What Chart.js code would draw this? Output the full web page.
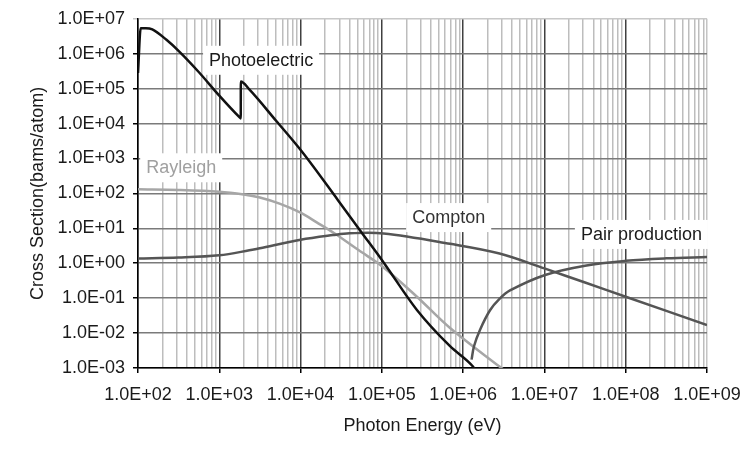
<!DOCTYPE html>
<html>
<head>
<meta charset="utf-8">
<script src="https://cdn.jsdelivr.net/npm/chart.js@4/dist/chart.umd.min.js"></script>
<style>
  html, body { margin: 0; background: #fff; }
</style>
</head>
<body>
<canvas id="chartCross" width="752" height="450"></canvas>
<script>
// Photon interaction cross sections (barns/atom) against photon energy (eV)
const photoEnergy = [100, 108, 125, 150, 224, 320, 562, 1000, 1780, 1838, 1840, 2340, 5000, 10200, 29000, 54000, 104000, 270000, 690000, 1320000, 1450000];
const photoSigma = [2.8e5, 5.4e6, 5.4e6, 5.0e6, 2.5e6, 1.17e6, 2.95e5, 6.3e4, 1.5e4, 1.4e4, 1.6e5, 9.5e4, 1.2e4, 1.66e3, 63, 8.7, 1.09, 0.046, 4.2e-3, 1.1e-3, 8e-4];

const rayleighEnergy = [100, 316, 1000, 2000, 3160, 5620, 10000, 15800, 26300, 50000, 105000, 270000, 690000, 2800000, 3200000];
const rayleighSigma = [132, 126, 112, 93, 76, 50, 28, 14.8, 7.1, 2.5, 0.76, 0.11, 0.014, 1.1e-3, 8.9e-4];

const comptonEnergy = [100, 316, 1000, 2340, 3160, 10000, 25000, 40000, 105000, 690000, 2800000, 10000000, 31600000, 100000000, 1000000000];
const comptonSigma = [1.36, 1.45, 1.69, 2.34, 2.7, 4.7, 6.4, 7.2, 7.1, 3.6, 1.9, 0.71, 0.28, 0.11, 0.017];

const pairEnergy = [1270000, 1360000, 1610000, 2140000, 2800000, 3770000, 10200000, 31600000, 100000000, 316000000, 1000000000];
const pairSigma = [1.74e-3, 4.2e-3, 0.0123, 0.045, 0.095, 0.166, 0.46, 0.85, 1.17, 1.38, 1.51];

const xTickValues = [1e2, 1e3, 1e4, 1e5, 1e6, 1e7, 1e8, 1e9];
const xTickLabels = ["1.0E+02", "1.0E+03", "1.0E+04", "1.0E+05", "1.0E+06", "1.0E+07", "1.0E+08", "1.0E+09"];
const yTickValues = [1e-3, 1e-2, 1e-1, 1e0, 1e1, 1e2, 1e3, 1e4, 1e5, 1e6, 1e7];
const yTickLabels = ["1.0E-03", "1.0E-02", "1.0E-01", "1.0E+00", "1.0E+01", "1.0E+02", "1.0E+03", "1.0E+04", "1.0E+05", "1.0E+06", "1.0E+07"];

const FONT = '"Liberation Sans", Arial, sans-serif';
const toPoints = (xs, ys) => xs.map((x, i) => ({ x, y: ys[i] }));

// vertical grid: decades plus 2..9 inside every decade
const xGridValues = [];
xTickValues.forEach((d, i) => {
  xGridValues.push(d);
  if (i < xTickValues.length - 1) {
    for (let k = 2; k <= 9; k++) xGridValues.push(d * k);
  }
});

// curve names in white boxes, placed in data units
const curveLabels = [
  { text: "Photoelectric", x: 3270, y: 6.7e5, color: "#1a1a1a" },
  { text: "Rayleigh", x: 340, y: 560, color: "#a0a0a0" },
  { text: "Compton", x: 6.64e5, y: 21, color: "#333333" },
  { text: "Pair production", x: 1.56e8, y: 6.9, color: "#1a1a1a" },
];

const curveLabelPlugin = {
  id: "curveLabels",
  afterDatasetsDraw(chart) {
    const { ctx } = chart;
    const xs = chart.scales.x;
    const ys = chart.scales.y;
    ctx.save();
    ctx.font = "18px " + FONT;
    ctx.textAlign = "center";
    ctx.textBaseline = "middle";
    curveLabels.forEach((l) => {
      const px = xs.getPixelForValue(l.x);
      const py = ys.getPixelForValue(l.y);
      const w = ctx.measureText(l.text).width + 12;
      ctx.fillStyle = "#ffffff";
      ctx.fillRect(px - w / 2, py - 14, w, 29);
      ctx.fillStyle = l.color;
      ctx.fillText(l.text, px, py + 1);
    });
    ctx.restore();
  },
};

// smooth curves use bezier tension; the edge jumps need monotone so they don't overshoot
const lineStyle = (color, smooth) => ({
  borderColor: color,
  backgroundColor: color,
  borderWidth: 2.5,
  pointRadius: 0,
  fill: false,
  ...(smooth ? { tension: 0.35 } : { cubicInterpolationMode: "monotone" }),
});

const dataCross = {
  datasets: [
    { label: "Photoelectric", data: toPoints(photoEnergy, photoSigma), ...lineStyle("#111111", false) },
    { label: "Compton", data: toPoints(comptonEnergy, comptonSigma), ...lineStyle("#555555", true) },
    { label: "Pair production", data: toPoints(pairEnergy, pairSigma), ...lineStyle("#555555", true) },
    { label: "Rayleigh", data: toPoints(rayleighEnergy, rayleighSigma), ...lineStyle("#a6a6a6", true) },
  ],
};

const optionsCross = {
  responsive: false,
  animation: false,
  layout: { padding: { top: 17, right: 45, left: 0, bottom: 0 } },
  plugins: {
    legend: { display: false },
    tooltip: { enabled: false },
  },
  scales: {
    x: {
      type: "logarithmic",
      min: 1e2,
      max: 1e9,
      afterBuildTicks: (scale) => {
        scale.ticks = xGridValues.map((v) => ({ value: v }));
      },
      afterFit: (scale) => {
        scale.height = 82;
      },
      ticks: {
        autoSkip: false,
        maxRotation: 0,
        minRotation: 0,
        padding: 11,
        color: "#1a1a1a",
        font: { family: FONT, size: 18 },
        callback: (value) => {
          const i = xTickValues.indexOf(value);
          return i >= 0 ? xTickLabels[i] : "";
        },
      },
      grid: {
        drawTicks: true,
        tickLength: 5,
        tickWidth: 1.5,
        tickColor: (ctx) => (ctx.tick && xTickValues.includes(ctx.tick.value) ? "#000000" : "rgba(0,0,0,0)"),
        color: (ctx) => {
          const v = ctx.tick ? ctx.tick.value : 0;
          if (v === 1e9) return "#c4c4c4";
          return xTickValues.includes(v) ? "#404040" : "#bdbdbd";
        },
        lineWidth: 1.5,
      },
      border: { display: true, color: "#000000", width: 1.5 },
      title: {
        display: true,
        text: "Photon Energy (eV)",
        color: "#1a1a1a",
        font: { family: FONT, size: 18 },
        padding: { top: 0, bottom: 13 },
      },
    },
    y: {
      type: "logarithmic",
      min: 1e-3,
      max: 1e7,
      afterBuildTicks: (scale) => {
        scale.ticks = yTickValues.map((v) => ({ value: v }));
      },
      afterFit: (scale) => {
        scale.width = 138;
      },
      ticks: {
        autoSkip: false,
        padding: 8,
        color: "#1a1a1a",
        font: { family: FONT, size: 18 },
        callback: (value) => {
          const i = yTickValues.indexOf(value);
          return i >= 0 ? yTickLabels[i] : "";
        },
      },
      grid: {
        drawTicks: true,
        tickLength: 5,
        tickWidth: 1.5,
        tickColor: (ctx) => (ctx.tick && ctx.tick.value === 1e7 ? "#c8c8c8" : "#000000"),
        color: (ctx) => (ctx.tick && ctx.tick.value === 1e7 ? "#c8c8c8" : "#7a7a7a"),
        lineWidth: 1.5,
      },
      border: { display: true, color: "#000000", width: 1.5 },
      title: {
        display: true,
        text: "Cross Section(bams/atom)",
        color: "#1a1a1a",
        font: { family: FONT, size: 18 },
        padding: { top: 27, bottom: 0 },
      },
    },
  },
};

new Chart(document.getElementById("chartCross").getContext("2d"), {
  type: "line",
  data: dataCross,
  options: optionsCross,
  plugins: [curveLabelPlugin],
});
</script>
</body>
</html>
